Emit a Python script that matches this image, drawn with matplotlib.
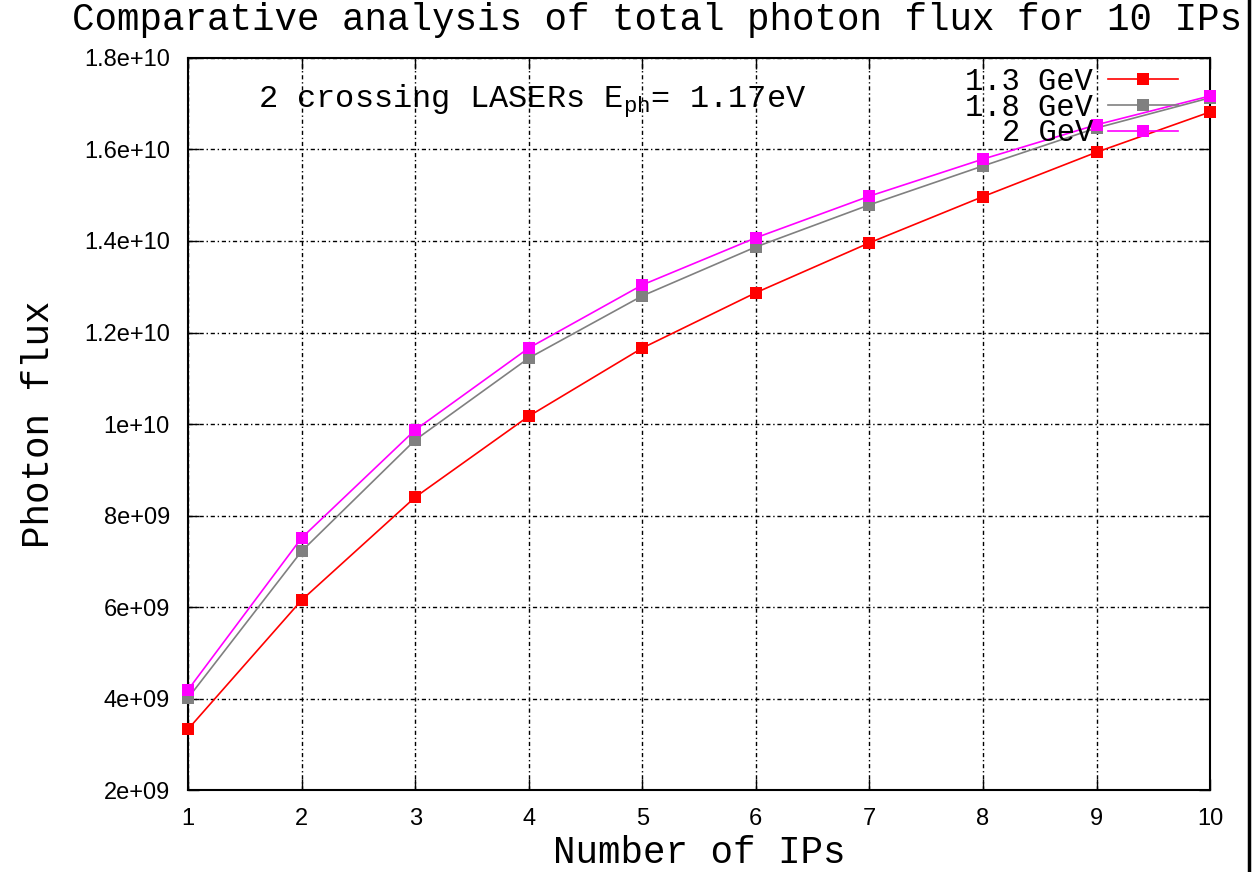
import matplotlib
matplotlib.use("Agg")
import matplotlib.pyplot as plt
from matplotlib.lines import Line2D
from matplotlib.ticker import FixedLocator

# values (photon flux vs number of IPs)
n_ips = [1, 2, 3, 4, 5, 6, 7, 8, 9, 10]
flux_13 = [3.33e9, 6.15e9, 8.40e9, 10.17e9, 11.66e9, 12.87e9, 13.96e9, 14.97e9, 15.94e9, 16.82e9]
flux_18 = [4.01e9, 7.22e9, 9.65e9, 11.44e9, 12.80e9, 13.87e9, 14.79e9, 15.64e9, 16.47e9, 17.13e9]
flux_20 = [4.19e9, 7.51e9, 9.87e9, 11.66e9, 13.04e9, 14.07e9, 14.98e9, 15.79e9, 16.54e9, 17.17e9]
labels = ["1.3 GeV", "1.8 GeV", "2 GeV"]
colors = ["#ff0000", "#808080", "#ff00ff"]
y_ticks = [2e9, 4e9, 6e9, 8e9, 1e10, 1.2e10, 1.4e10, 1.6e10, 1.8e10]
y_ticklabels = ["2e+09", "4e+09", "6e+09", "8e+09", "1e+10", "1.2e+10", "1.4e+10", "1.6e+10", "1.8e+10"]

mono = "Liberation Mono"
sans = "Liberation Sans"
plt.rcParams["mathtext.fontset"] = "custom"
plt.rcParams["mathtext.rm"] = mono

fig = plt.figure(figsize=(12.52, 8.72), dpi=100)
ax = fig.add_axes([0.1502, 0.0940, 0.8163, 0.8395])

for series, lab, col in zip([flux_13, flux_18, flux_20], labels, colors):
    ax.plot(n_ips, series, color=col, linewidth=1.2, marker="s", markersize=9,
            markeredgewidth=0, label=lab, clip_on=False, zorder=3)

ax.set_xlim(1, 10)
ax.set_ylim(2e9, 1.8e10)
ax.xaxis.set_major_locator(FixedLocator(n_ips))
ax.yaxis.set_major_locator(FixedLocator(y_ticks))
ax.set_yticklabels(y_ticklabels)
ax.tick_params(direction="in", length=8, width=1, top=True, right=True,
               labelsize=17, pad=13, colors="black")
for lbl in ax.get_xticklabels() + ax.get_yticklabels():
    lbl.set_fontfamily(sans)

ax.grid(True, color="black", linewidth=1, linestyle=(0, (3, 2, 1, 2)))
for sp in ax.spines.values():
    sp.set_linewidth(1.5)

ax.set_xlabel("Number of IPs", fontfamily=mono, fontsize=27)
ax.xaxis.set_label_coords(0.5, -0.062)
ax.set_ylabel("Photon flux", fontfamily=mono, fontsize=27)
ax.yaxis.set_label_coords(-0.128, 0.5)

fig.text(0.525, 0.977, "Comparative analysis of total photon flux for 10 IPs",
         fontfamily=mono, fontsize=27, ha="center", va="center")

ax.text(0.068, 0.941, r"2 crossing LASERs E$_{\rm ph}$= 1.17eV", transform=ax.transAxes,
        fontfamily=mono, fontsize=23, ha="left", va="center")

ax.legend(loc="upper right", bbox_to_anchor=(0.99, 1.017), frameon=False,
          markerfirst=False, prop={"family": mono, "size": 22},
          handlelength=2.3, handletextpad=0.5, labelspacing=-0.14,
          borderpad=0.2)

# right edge line of the original screenshot
fig.add_artist(Line2D([0.9975, 0.9975], [0, 1], transform=fig.transFigure,
                      color="black", linewidth=2.5))

fig.savefig("out.png", dpi=100)
